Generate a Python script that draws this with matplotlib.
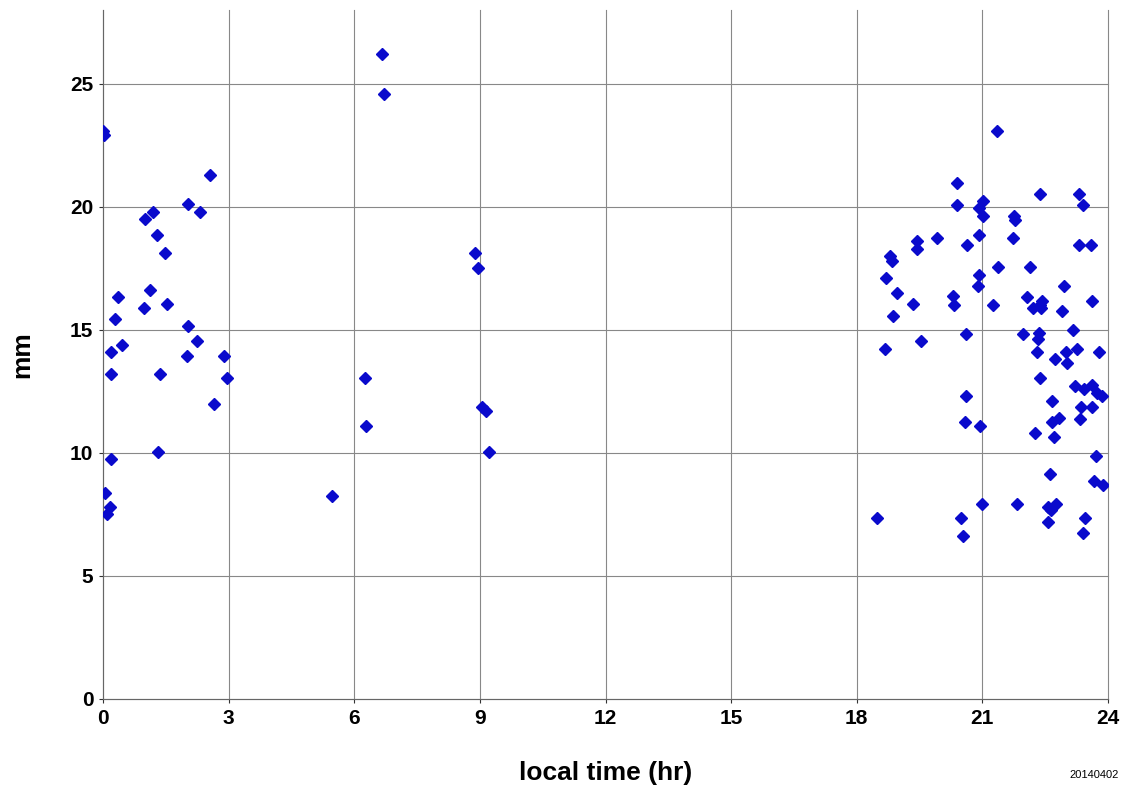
import matplotlib
matplotlib.use("Agg")
import matplotlib.pyplot as plt

# hour of day (local) and measured value in mm
hours = [0.0, 0.02, 0.05, 0.10, 0.16, 0.18, 0.18, 0.18, 0.29, 0.37, 0.45,
         0.97, 1.01, 1.12, 1.20, 1.28, 1.31, 1.35, 1.48, 1.52,
         2.00, 2.02, 2.02, 2.24, 2.31, 2.56, 2.66, 2.89, 2.95,
         5.46, 6.26, 6.27, 6.67, 6.70, 8.88, 8.96, 9.06, 9.14, 9.21,
         18.48, 18.67, 18.71, 18.80, 18.85, 18.86, 18.95, 19.34, 19.43, 19.45,
         19.54, 19.92, 20.30, 20.32, 20.39, 20.39, 20.50, 20.53, 20.58, 20.60,
         20.60, 20.63, 20.90, 20.91, 20.92, 20.92, 20.94, 20.98, 21.01, 21.01,
         21.25, 21.35, 21.37, 21.72, 21.75, 21.77, 21.82, 21.98, 22.06, 22.14,
         22.20, 22.26, 22.31, 22.34, 22.35, 22.37, 22.38, 22.38, 22.39, 22.42,
         22.57, 22.57, 22.61, 22.65, 22.66, 22.66, 22.71, 22.73, 22.76, 22.83,
         22.89, 22.95, 23.00, 23.03, 23.17, 23.20, 23.25, 23.31, 23.31, 23.33,
         23.36, 23.40, 23.40, 23.43, 23.45, 23.60, 23.61, 23.61, 23.62, 23.67,
         23.71, 23.74, 23.78, 23.86, 23.88]
values = [23.1, 22.9, 8.39, 7.5, 7.8, 9.74, 13.19, 14.1, 15.45, 16.33, 14.4,
          15.87, 19.49, 16.64, 19.78, 18.87, 10.04, 13.19, 18.13, 16.04,
          13.93, 20.1, 15.14, 14.56, 19.78, 21.28, 12.0, 13.93, 13.04,
          8.25, 13.04, 11.09, 26.2, 24.57, 18.14, 17.53, 11.85, 11.72, 10.04,
          7.36, 14.23, 17.1, 18.0, 17.82, 15.58, 16.49, 16.04, 18.6, 18.29,
          14.54, 18.74, 16.36, 16.03, 20.98, 20.09, 7.36, 6.62, 11.26, 14.84,
          12.3, 18.43, 16.77, 17.23, 19.94, 18.87, 11.11, 7.94, 20.25, 19.63,
          16.03, 23.07, 17.55, 18.74, 19.63, 19.48, 7.93, 14.84, 16.34, 17.55,
          15.87, 10.8, 14.1, 14.65, 14.87, 16.0, 20.52, 13.05, 15.87, 16.19,
          7.8, 7.21, 9.16, 7.67, 12.13, 11.24, 10.65, 13.8, 7.94, 11.4,
          15.75, 16.78, 14.1, 13.65, 15.0, 12.74, 14.24, 20.52, 18.43, 11.39,
          11.85, 20.08, 6.75, 12.59, 7.36, 18.43, 12.76, 11.85, 16.19, 8.85,
          9.89, 12.45, 14.1, 12.31, 8.7]

xticks = [0, 3, 6, 9, 12, 15, 18, 21, 24]
yticks = [0, 5, 10, 15, 20, 25]

fnt = ['Liberation Sans Narrow', 'Liberation Sans', 'DejaVu Sans']

fig = plt.figure(figsize=(11.22, 7.9), dpi=100)
ax = fig.add_axes([103/1122, 91/790, 1005/1122, 689/790])

ax.plot(hours, values, linestyle='none', marker='D', markersize=6.5,
        color='#0a0acc', zorder=3)

ax.set_xlim(0, 24)
ax.set_ylim(0, 28)
ax.set_xticks(xticks)
ax.set_yticks(yticks)
ax.grid(True, color='#888888', linewidth=0.8)
for gl in ax.get_xgridlines() + ax.get_ygridlines():
    gl.set_clip_on(False)

for s in ['top', 'right']:
    ax.spines[s].set_visible(False)
for s in ['left', 'bottom']:
    ax.spines[s].set_color('#666666')
    ax.spines[s].set_linewidth(0.8)

ax.tick_params(length=3, width=0.8, color='#333333', pad=4)
for lab in ax.get_xticklabels() + ax.get_yticklabels():
    lab.set_family(fnt)
    lab.set_fontweight('bold')
    lab.set_fontsize(15)

ax.set_xlabel('local time (hr)', family=fnt, fontweight='bold', fontsize=19, labelpad=24)
ax.set_ylabel('mm', family=fnt, fontweight='bold', fontsize=19, labelpad=26)

fig.text(1094/1122, 1 - 775/790, '20140402', family=fnt, fontsize=8,
         ha='center', va='center')

fig.savefig('out.png', dpi=100)
